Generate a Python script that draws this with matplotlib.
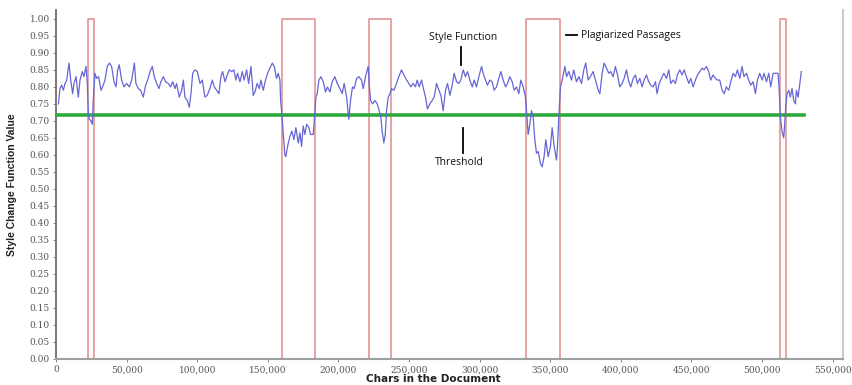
import matplotlib
matplotlib.use("Agg")
import matplotlib.pyplot as plt
from matplotlib.ticker import FuncFormatter
import numpy as np

# ---- data (positions in thousands of characters) ----
style_x_k = [
    1.7, 2.8, 4.0, 5.2, 6.4, 7.6, 9.2, 10.4, 11.8, 12.7, 14.2, 15.8, 17.0, 18.6, 19.8, 21.2, 22.2, 22.9, 23.6, 24.8,
    25.7, 26.4, 27.6, 28.8, 30.2, 31.9, 33.0, 34.7, 36.3, 37.8, 39.4, 41.1, 42.5, 43.7, 44.8, 46.5, 48.1, 50.0, 51.9, 53.6,
    55.5, 56.6, 58.3, 59.9, 61.8, 63.5, 64.9, 66.6, 68.2, 69.6, 71.3, 72.9, 74.3, 76.0, 77.6, 79.5, 81.2, 82.6, 84.3, 85.4,
    87.3, 89.0, 90.2, 91.3, 93.0, 94.4, 95.6, 96.8, 98.4, 100.1, 102.0, 103.6, 105.5, 107.1, 109.0, 110.7, 112.1, 113.8, 115.4, 116.8,
    118.0, 119.7, 121.3, 122.7, 124.4, 126.0, 127.4, 128.6, 130.3, 131.9, 133.3, 135.0, 136.4, 138.1, 139.7, 140.9, 142.5, 144.0, 145.1, 146.8,
    148.4, 149.9, 151.5, 153.2, 154.6, 156.2, 157.4, 158.6, 159.1, 160.0, 161.0, 162.1, 162.8, 164.0, 165.7, 167.1, 168.5, 169.9, 171.6, 172.8,
    173.9, 175.1, 176.3, 177.5, 179.1, 180.3, 182.2, 183.4, 184.1, 185.0, 186.2, 187.6, 189.3, 190.9, 192.3, 194.0, 195.6, 197.5, 199.2, 201.1,
    202.7, 204.1, 205.8, 207.4, 208.6, 210.0, 211.2, 212.9, 214.5, 216.4, 217.6, 219.2, 221.1, 221.8, 222.8, 224.2, 225.9, 227.5, 228.9, 230.1,
    231.0, 232.2, 233.2, 234.1, 235.3, 236.5, 237.7, 239.3, 241.2, 242.8, 244.7, 246.4, 248.3, 249.9, 251.3, 253.0, 254.6, 255.8, 257.2, 258.9,
    260.5, 261.7, 263.1, 264.8, 266.4, 267.9, 269.5, 271.2, 272.6, 274.2, 275.9, 277.3, 279.0, 280.6, 282.0, 283.7, 285.3, 286.7, 288.4, 290.0,
    291.5, 293.1, 294.8, 296.2, 297.8, 299.5, 301.4, 302.5, 304.2, 305.6, 307.3, 308.9, 310.3, 312.0, 313.6, 315.1, 316.7, 318.4, 319.8, 321.4,
    323.1, 324.5, 326.2, 327.8, 329.2, 330.9, 332.5, 333.2, 334.4, 335.6, 336.8, 338.0, 339.1, 340.3, 341.5, 343.1, 344.3, 345.7, 346.9, 348.6,
    350.2, 351.4, 352.8, 354.5, 355.2, 356.1, 357.3, 358.5, 360.4, 361.6, 363.2, 365.1, 366.7, 368.6, 370.3, 372.2, 373.8, 375.2, 376.9, 378.5,
    380.4, 382.1, 384.0, 385.2, 386.8, 388.2, 389.9, 391.5, 392.9, 394.6, 396.2, 397.7, 399.3, 401.0, 402.4, 404.0, 405.7, 407.1, 408.8, 410.4,
    411.8, 413.5, 415.1, 416.5, 418.2, 419.8, 421.3, 422.9, 424.6, 425.7, 427.2, 428.8, 430.5, 432.4, 434.0, 435.4, 437.1, 438.7, 440.1, 441.8,
    443.4, 444.9, 446.5, 448.2, 449.6, 451.2, 452.9, 454.3, 456.0, 457.6, 459.0, 460.7, 462.3, 463.7, 465.4, 467.0, 468.5, 470.1, 471.8, 473.2,
    474.8, 476.5, 477.9, 479.6, 481.2, 482.6, 484.3, 485.9, 487.3, 489.0, 490.6, 492.1, 493.7, 495.4, 496.8, 498.4, 500.1, 501.5, 503.2, 504.8,
    506.2, 507.9, 509.5, 511.4, 512.1, 513.1, 514.2, 515.4, 516.1, 516.8, 517.8, 519.0, 520.1, 521.3, 522.5, 523.7, 524.4, 525.6, 526.8, 527.9,
]
style_y = [
    0.75, 0.795, 0.805, 0.79, 0.81, 0.82, 0.87, 0.82, 0.78, 0.81, 0.83, 0.77, 0.82, 0.845, 0.83, 0.86, 0.81, 0.72, 0.705, 0.70,
    0.69, 0.76, 0.84, 0.825, 0.83, 0.79, 0.80, 0.82, 0.86, 0.87, 0.86, 0.815, 0.80, 0.85, 0.865, 0.82, 0.80, 0.81, 0.80, 0.82,
    0.87, 0.81, 0.795, 0.79, 0.77, 0.805, 0.82, 0.845, 0.86, 0.83, 0.81, 0.795, 0.815, 0.83, 0.815, 0.81, 0.80, 0.815, 0.795, 0.81,
    0.77, 0.79, 0.82, 0.77, 0.76, 0.74, 0.78, 0.84, 0.85, 0.845, 0.81, 0.82, 0.77, 0.775, 0.795, 0.82, 0.80, 0.79, 0.78, 0.83,
    0.845, 0.815, 0.835, 0.85, 0.845, 0.85, 0.82, 0.84, 0.815, 0.845, 0.82, 0.85, 0.81, 0.86, 0.775, 0.785, 0.81, 0.795, 0.82, 0.79,
    0.82, 0.84, 0.855, 0.87, 0.86, 0.825, 0.84, 0.82, 0.76, 0.72, 0.66, 0.60, 0.595, 0.625, 0.655, 0.67, 0.645, 0.68, 0.635, 0.665,
    0.625, 0.685, 0.66, 0.69, 0.68, 0.66, 0.66, 0.73, 0.77, 0.78, 0.82, 0.83, 0.815, 0.785, 0.80, 0.785, 0.815, 0.83, 0.81, 0.795,
    0.78, 0.81, 0.77, 0.705, 0.76, 0.80, 0.795, 0.825, 0.83, 0.82, 0.795, 0.83, 0.86, 0.81, 0.76, 0.75, 0.76, 0.75, 0.73, 0.71,
    0.67, 0.635, 0.66, 0.73, 0.77, 0.78, 0.795, 0.79, 0.81, 0.83, 0.85, 0.835, 0.82, 0.81, 0.80, 0.81, 0.80, 0.82, 0.80, 0.82,
    0.79, 0.77, 0.735, 0.75, 0.76, 0.77, 0.81, 0.79, 0.775, 0.73, 0.79, 0.81, 0.775, 0.805, 0.84, 0.815, 0.81, 0.82, 0.85, 0.83,
    0.845, 0.82, 0.80, 0.82, 0.80, 0.83, 0.86, 0.84, 0.82, 0.805, 0.82, 0.815, 0.79, 0.80, 0.825, 0.845, 0.82, 0.80, 0.81, 0.83,
    0.815, 0.79, 0.80, 0.78, 0.82, 0.80, 0.77, 0.735, 0.66, 0.69, 0.73, 0.71, 0.645, 0.605, 0.61, 0.575, 0.565, 0.595, 0.645, 0.595,
    0.625, 0.68, 0.625, 0.585, 0.625, 0.71, 0.80, 0.82, 0.86, 0.83, 0.845, 0.82, 0.85, 0.815, 0.83, 0.81, 0.85, 0.87, 0.82, 0.83,
    0.845, 0.82, 0.79, 0.78, 0.84, 0.87, 0.855, 0.84, 0.845, 0.83, 0.86, 0.835, 0.80, 0.81, 0.825, 0.85, 0.815, 0.80, 0.825, 0.835,
    0.81, 0.825, 0.80, 0.82, 0.835, 0.815, 0.805, 0.80, 0.815, 0.78, 0.81, 0.825, 0.84, 0.825, 0.85, 0.81, 0.82, 0.81, 0.835, 0.85,
    0.835, 0.85, 0.83, 0.81, 0.825, 0.80, 0.82, 0.835, 0.845, 0.855, 0.85, 0.86, 0.845, 0.82, 0.835, 0.825, 0.82, 0.82, 0.79, 0.78,
    0.80, 0.79, 0.815, 0.84, 0.83, 0.85, 0.825, 0.86, 0.83, 0.84, 0.82, 0.805, 0.815, 0.78, 0.82, 0.84, 0.82, 0.84, 0.815, 0.84,
    0.80, 0.84, 0.84, 0.84, 0.80, 0.71, 0.67, 0.65, 0.69, 0.74, 0.78, 0.79, 0.77, 0.795, 0.76, 0.75, 0.79, 0.77, 0.81, 0.845,
]
passage_start_k = [22.4, 160.3, 221.8, 333.2, 512.6]
passage_end_k = [27.1, 183.4, 237.2, 356.8, 516.8]
passage_level = 1.0
threshold = 0.718
threshold_end_k = 530.0

x_ticks = list(range(0, 550001, 50000))
y_ticks = [round(0.05 * i, 2) for i in range(21)]

style_x = np.array(style_x_k) * 1000
n = min(len(style_x), len(style_y))

fig = plt.figure(figsize=(8.52, 3.85), dpi=100)
ax = fig.add_axes([56/852, 1 - 359/385, (843-56)/852, (359-10)/385])

# plagiarized passages
for s, e in zip(passage_start_k, passage_end_k):
    ax.plot([s*1000, s*1000, e*1000, e*1000], [0, passage_level, passage_level, 0],
            color='#e08c8c', lw=1.1, zorder=2)

# threshold
ax.plot([0, threshold_end_k*1000], [threshold, threshold], color='#2eaa3c', lw=2.6, zorder=3)

# style function
ax.plot(style_x[:n], style_y[:n], color='#6666d6', lw=0.9, zorder=4)

ax.set_xlim(0, 557400)
ax.set_ylim(0, 1.026)
ax.set_xticks(x_ticks)
ax.set_yticks(y_ticks)
ax.xaxis.set_major_formatter(FuncFormatter(lambda v, p: f"{int(v):,}"))
ax.yaxis.set_major_formatter(FuncFormatter(lambda v, p: f"{v:.2f}"))

for lab in ax.get_xticklabels() + ax.get_yticklabels():
    lab.set_fontfamily('DejaVu Serif')
    lab.set_fontsize(6.5)
    lab.set_color('#555555')
ax.tick_params(axis='both', length=2.5, width=0.7, color='#888888', pad=2)

ax.spines['top'].set_visible(False)
ax.spines['left'].set_color('#7a6a60')
ax.spines['left'].set_linewidth(1.3)
ax.spines['bottom'].set_color('#a0a0a0')
ax.spines['bottom'].set_linewidth(1.5)
ax.spines['right'].set_color('#cccccc')
ax.spines['right'].set_linewidth(1.5)

ax.set_xlabel('Chars in the Document', fontsize=7.5, fontweight='bold',
              family=['DejaVu Sans'], color='#222222')
ax.xaxis.label.set_va('center')
ax.xaxis.set_label_coords(0.48, -0.057)
ax.set_ylabel('Style Change Function Value', fontsize=7.5, fontweight='bold',
              family=['Liberation Sans Narrow', 'Liberation Sans', 'DejaVu Sans'], color='#222222')
ax.yaxis.set_label_coords(-0.05, 0.5)

# annotations
ann_font = ['Open Sans', 'DejaVu Sans']
ax.text(288000, 0.945, 'Style Function', fontsize=7.5, family=ann_font, ha='center', va='center', color='#111111')
ax.plot([287000, 287000], [0.865, 0.918], color='black', lw=1.3)
ax.text(286000, 0.578, 'Threshold', fontsize=7.5, family=ann_font, ha='center', va='center', color='#111111')
ax.plot([288500, 288500], [0.607, 0.68], color='black', lw=1.3)
ax.plot([361000, 369000], [0.952, 0.952], color='black', lw=1.3)
ax.text(372000, 0.952, 'Plagiarized Passages', fontsize=7.5, family=ann_font, ha='left', va='center', color='#111111')

fig.savefig('out.png', dpi=100)
